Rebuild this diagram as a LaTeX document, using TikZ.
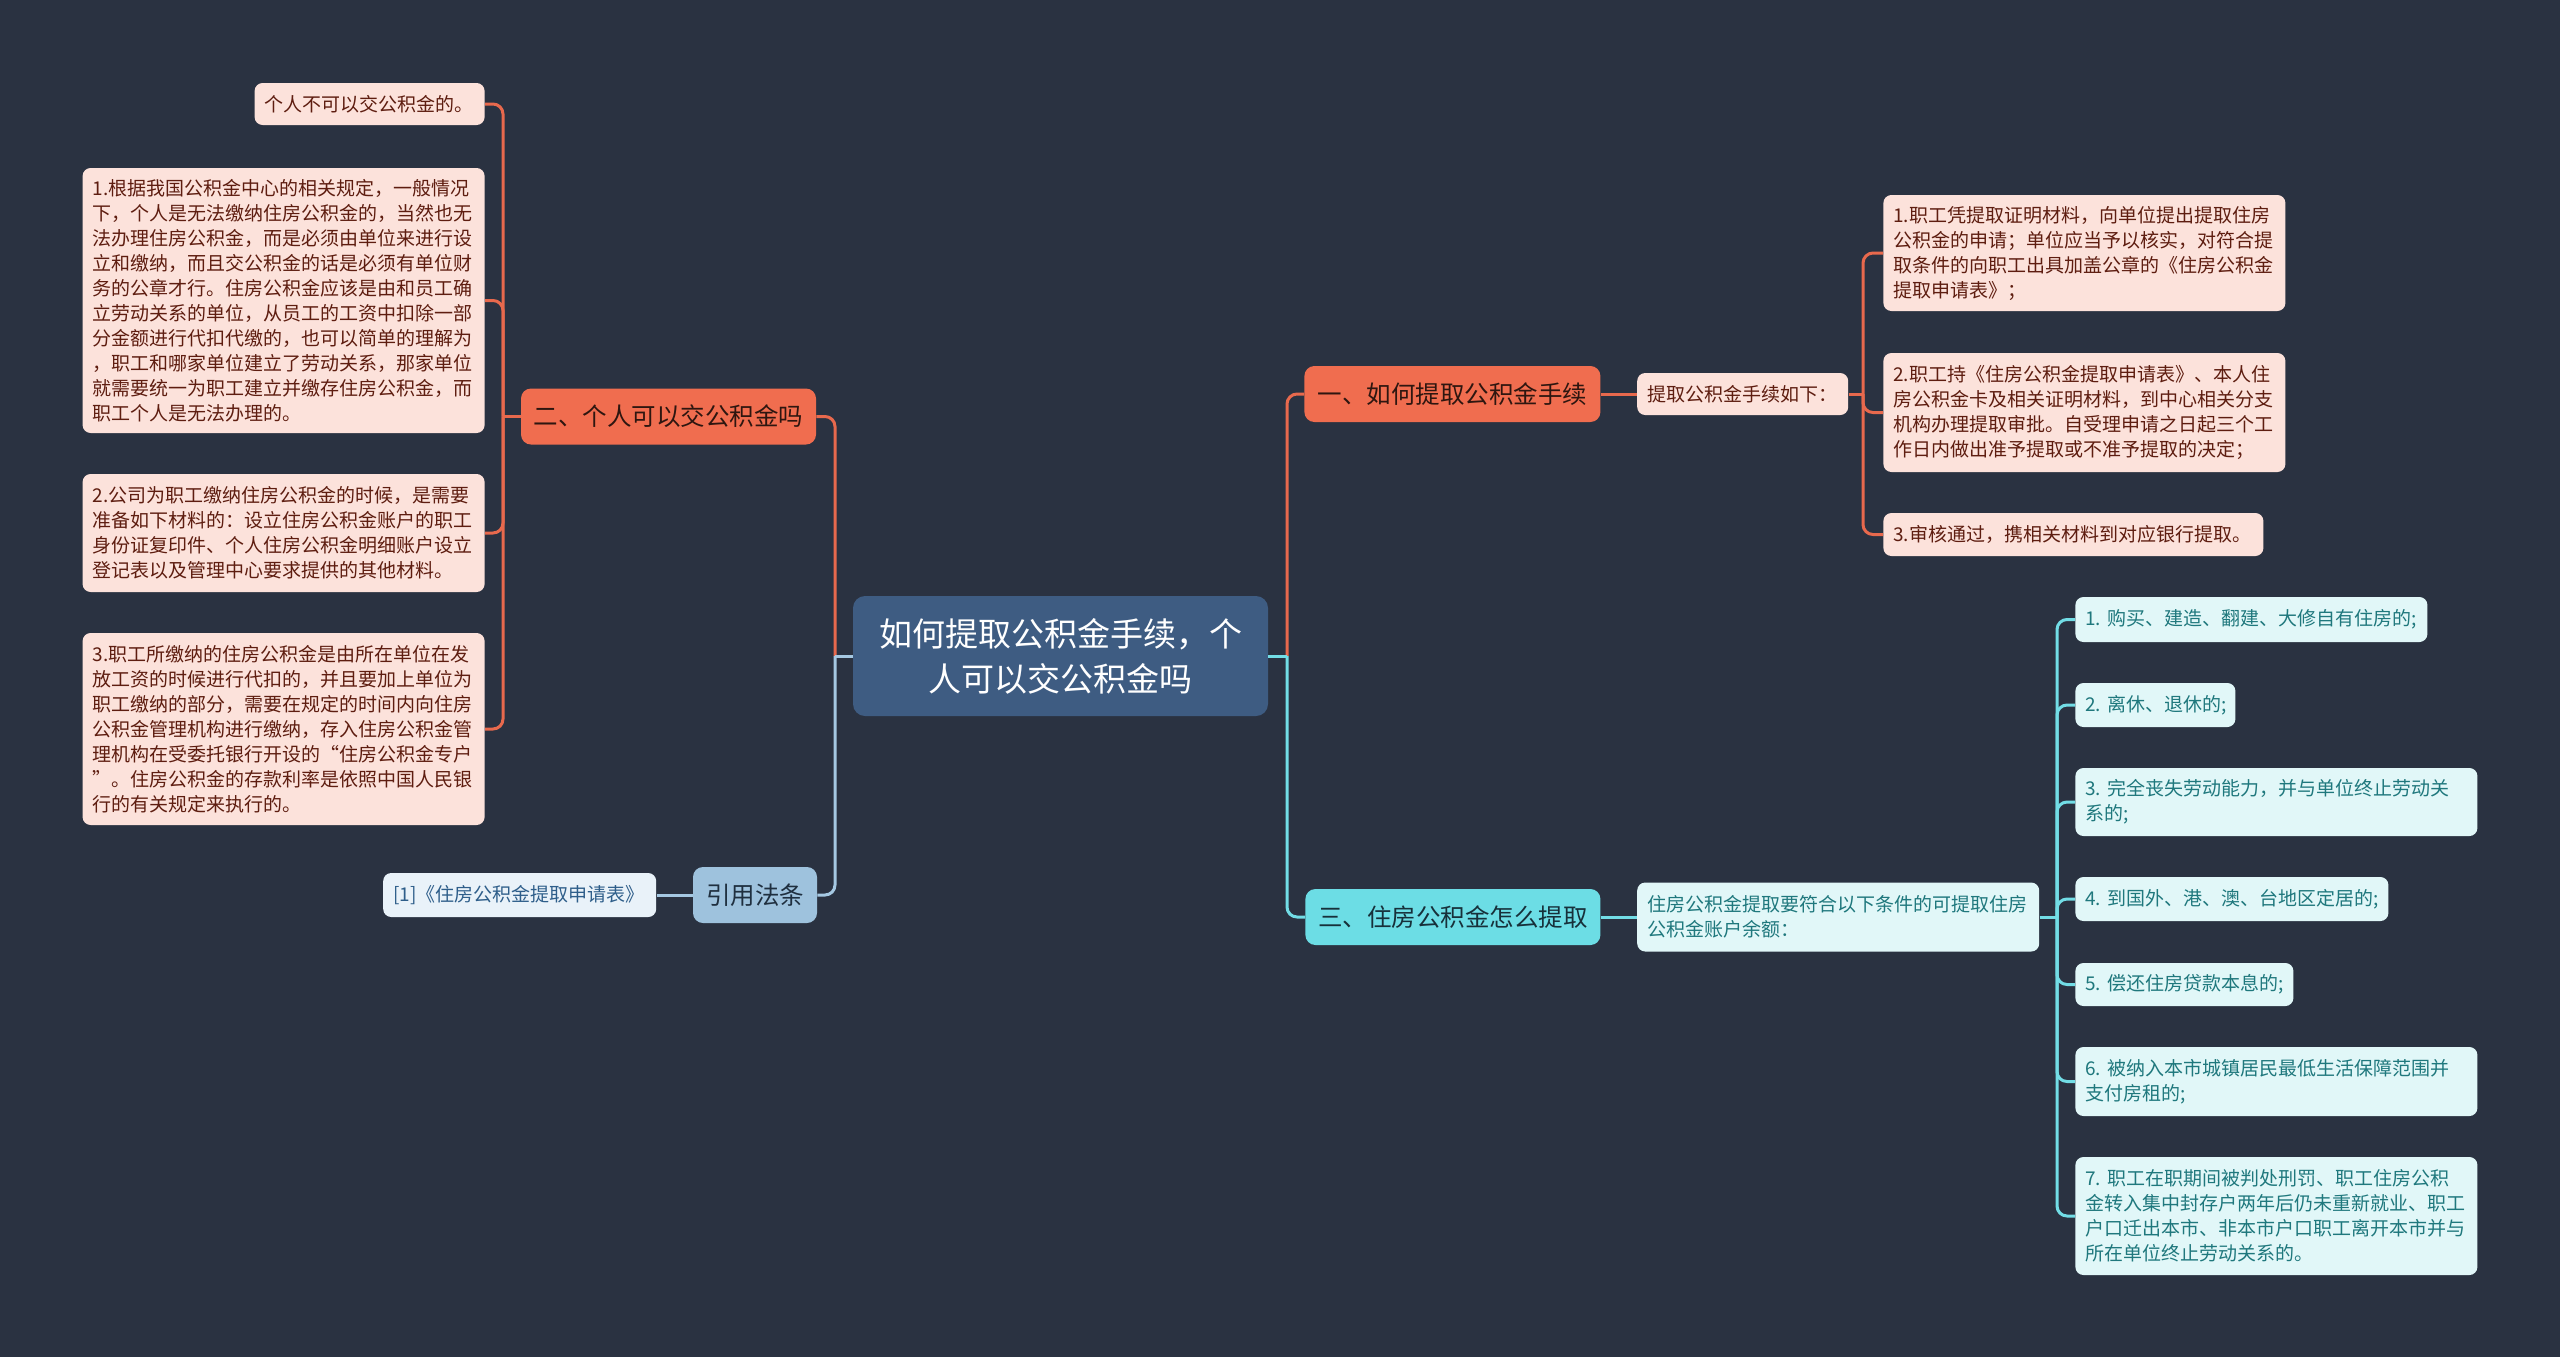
\documentclass[tikz,border=0pt]{standalone}
\usepackage{fontspec}
\setmainfont{Noto Sans CJK SC}
\usepackage{xcolor}
\usepackage{tikz}
\usetikzlibrary{positioning}
\definecolor{bgnavy}{HTML}{2A3241}
\definecolor{rootblue}{HTML}{3E5C82}
\definecolor{orangemain}{HTML}{F06D4F}
\definecolor{orangeline}{HTML}{E8694D}
\definecolor{orangeleaf}{HTML}{FCE2DB}
\definecolor{orangetext}{HTML}{5E1D10}
\definecolor{orangemaintext}{HTML}{2E1610}
\definecolor{cyanmain}{HTML}{6CDDE5}
\definecolor{cyanline}{HTML}{72DDE6}
\definecolor{cyanleaf}{HTML}{E1F7F8}
\definecolor{cyantext}{HTML}{1F787D}
\definecolor{cyanmaintext}{HTML}{17303A}
\definecolor{citemain}{HTML}{9EC2DD}
\definecolor{citeline}{HTML}{A5C8E2}
\definecolor{citeleaf}{HTML}{E9F2F9}
\definecolor{citetext}{HTML}{2E5E8A}
\definecolor{citemaintext}{HTML}{1F2F3F}

\tikzset{
  topic/.style={fill=rootblue, text=white, rounded corners=6pt, align=center, inner sep=0pt,
    font=\fontsize{16.5}{22.5}\selectfont, minimum width=207.5pt, minimum height=60pt},
  branch/.style 2 args={fill=#1, text=#2, rounded corners=5pt, inner sep=0pt,
    font=\fontsize{12.25}{15}\selectfont, minimum height=28pt},
  leaf/.style 2 args={rounded corners=4pt, inner xsep=5pt, inner ysep=0pt, align=left,
    font=\fontsize{9.5}{12.5}\selectfont, text width=#1, minimum height=#2},
  oleaf/.style={fill=orangeleaf, text=orangetext},
  cleaf/.style={fill=cyanleaf, text=cyantext},
  rleaf/.style={fill=citeleaf, text=citetext},
  link/.style={line width=1.5pt, rounded corners=5pt},
}

\begin{document}
\begin{tikzpicture}[x=0.5pt, y=-0.5pt]
  \fill[bgnavy] (0,0) rectangle (2560,1357);
  \useasboundingbox (0,0) rectangle (2560,1357);

  \node[topic] (root) at (1060.5,656) {如何提取公积金手续，个\\人可以交公积金吗};

  % left: 二 and 引用法条
  \node[branch={orangemain}{orangemaintext}, minimum width=147.5pt] (personal) at (668.5,416.5) {二、个人可以交公积金吗};
  \node[branch={citemain}{citemaintext}, minimum width=62pt] (cite) at (755,895) {引用法条};
  \node[leaf={126.5pt}{22pt}, rleaf, left=18pt of cite] (citeref) {[1]《住房公积金提取申请表》};

  \node[leaf={105pt}{21pt}, oleaf, anchor=east] (pnone) at (485,104) {个人不可以交公积金的。};
  \node[leaf={191pt}{132.5pt}, oleaf, anchor=east] (pone) at (485,300.5)
    {1.根据我国公积金中心的相关规定，一般情况\\
     下，个人是无法缴纳住房公积金的，当然也无\\
     法办理住房公积金，而是必须由单位来进行设\\
     立和缴纳，而且交公积金的话是必须有单位财\\
     务的公章才行。住房公积金应该是由和员工确\\
     立劳动关系的单位，从员工的工资中扣除一部\\
     分金额进行代扣代缴的，也可以简单的理解为\\
     ，职工和哪家单位建立了劳动关系，那家单位\\
     就需要统一为职工建立并缴存住房公积金，而\\
     职工个人是无法办理的。};
  \node[leaf={191pt}{59pt}, oleaf, anchor=east] (ptwo) at (485,533)
    {2.公司为职工缴纳住房公积金的时候，是需要\\
     准备如下材料的：设立住房公积金账户的职工\\
     身份证复印件、个人住房公积金明细账户设立\\
     登记表以及管理中心要求提供的其他材料。};
  \node[leaf={191pt}{96pt}, oleaf, anchor=east] (pthree) at (485,729)
    {3.职工所缴纳的住房公积金是由所在单位在发\\
     放工资的时候进行代扣的，并且要加上单位为\\
     职工缴纳的部分，需要在规定的时间内向住房\\
     公积金管理机构进行缴纳，存入住房公积金管\\
     理机构在受委托银行开设的“住房公积金专户\\
     ”。住房公积金的存款利率是依照中国人民银\\
     行的有关规定来执行的。};

  % right: 一 and 三
  \node[branch={orangemain}{orangemaintext}, minimum width=148pt, anchor=west] (howto) at (1304,394) {一、如何提取公积金手续};
  \node[leaf={95.5pt}{21pt}, oleaf, right=18pt of howto] (steps) {提取公积金手续如下：};
  \node[leaf={191pt}{58pt}, oleaf, anchor=west] (sone) at (1883,253)
    {1.职工凭提取证明材料，向单位提出提取住房\\
     公积金的申请；单位应当予以核实，对符合提\\
     取条件的向职工出具加盖公章的《住房公积金\\
     提取申请表》；};
  \node[leaf={191pt}{59.5pt}, oleaf, anchor=west] (stwo) at (1883,412.5)
    {2.职工持《住房公积金提取申请表》、本人住\\
     房公积金卡及相关证明材料，到中心相关分支\\
     机构办理提取审批。自受理申请之日起三个工\\
     作日内做出准予提取或不准予提取的决定；};
  \node[leaf={180pt}{21.5pt}, oleaf, anchor=west] (sthree) at (1883,534.5) {3.审核通过，携相关材料到对应银行提取。};

  \node[branch={cyanmain}{cyanmaintext}, minimum width=147.5pt, anchor=west] (when) at (1305,917) {三、住房公积金怎么提取};
  \node[leaf={191pt}{34.5pt}, cleaf, right=18pt of when] (cond)
    {住房公积金提取要符合以下条件的可提取住房\\公积金账户余额：};
  \node[leaf={166pt}{22.5pt}, cleaf, anchor=west] (cone) at (2075,619.5) {1.~购买、建造、翻建、大修自有住房的;};
  \node[leaf={70pt}{22pt}, cleaf, anchor=west] (ctwo) at (2075,705) {2.~离休、退休的;};
  \node[leaf={191pt}{34pt}, cleaf, anchor=west] (cthree) at (2075,802) {3.~完全丧失劳动能力，并与单位终止劳动关\\系的;};
  \node[leaf={146.5pt}{22pt}, cleaf, anchor=west] (cfour) at (2075,899) {4.~到国外、港、澳、台地区定居的;};
  \node[leaf={99pt}{21.5pt}, cleaf, anchor=west] (cfive) at (2075,984.5) {5.~偿还住房贷款本息的;};
  \node[leaf={191pt}{34.5pt}, cleaf, anchor=west] (csix) at (2075,1081.5) {6.~被纳入本市城镇居民最低生活保障范围并\\支付房租的;};
  \node[leaf={191pt}{59pt}, cleaf, anchor=west] (cseven) at (2075,1216)
    {7.~职工在职期间被判处刑罚、职工住房公积\\
     金转入集中封存户两年后仍未重新就业、职工\\
     户口迁出本市、非本市户口职工离开本市并与\\
     所在单位终止劳动关系的。};

  % connectors
  \coordinate (lbus) at (835,656);
  \coordinate (rbus) at (1287,656);
  \coordinate (pbus) at (503,416.5);
  \coordinate (sbus) at (1863,394);
  \coordinate (cbus) at (2057,917);

  \draw[link, orangeline] (lbus) |- (personal.east);
  \draw[link, citeline] (root.west) -- (lbus);
  \draw[link, citeline] (lbus) |- (cite.east);
  \draw[link, citeline] (cite.west) -- (citeref.east);
  \draw[link, orangeline] (personal.west) -- (pbus);
  \foreach \leaf in {pnone, pone, ptwo, pthree}
    \draw[link, orangeline] (pbus) |- (\leaf.east);

  \draw[link, orangeline] (rbus) |- (howto.west);
  \draw[link, cyanline] (root.east) -- (rbus);
  \draw[link, cyanline] (rbus) |- (when.west);
  \draw[link, orangeline] (howto.east) -- (steps.west);
  \draw[link, orangeline] (steps.east) -- (sbus);
  \foreach \leaf in {sone, stwo, sthree}
    \draw[link, orangeline] (sbus) |- (\leaf.west);
  \draw[link, cyanline] (when.east) -- (cond.west);
  \draw[link, cyanline] (cond.east) -- (cbus);
  \foreach \leaf in {cone, ctwo, cthree, cfour, cfive, csix, cseven}
    \draw[link, cyanline] (cbus) |- (\leaf.west);
\end{tikzpicture}
\end{document}
